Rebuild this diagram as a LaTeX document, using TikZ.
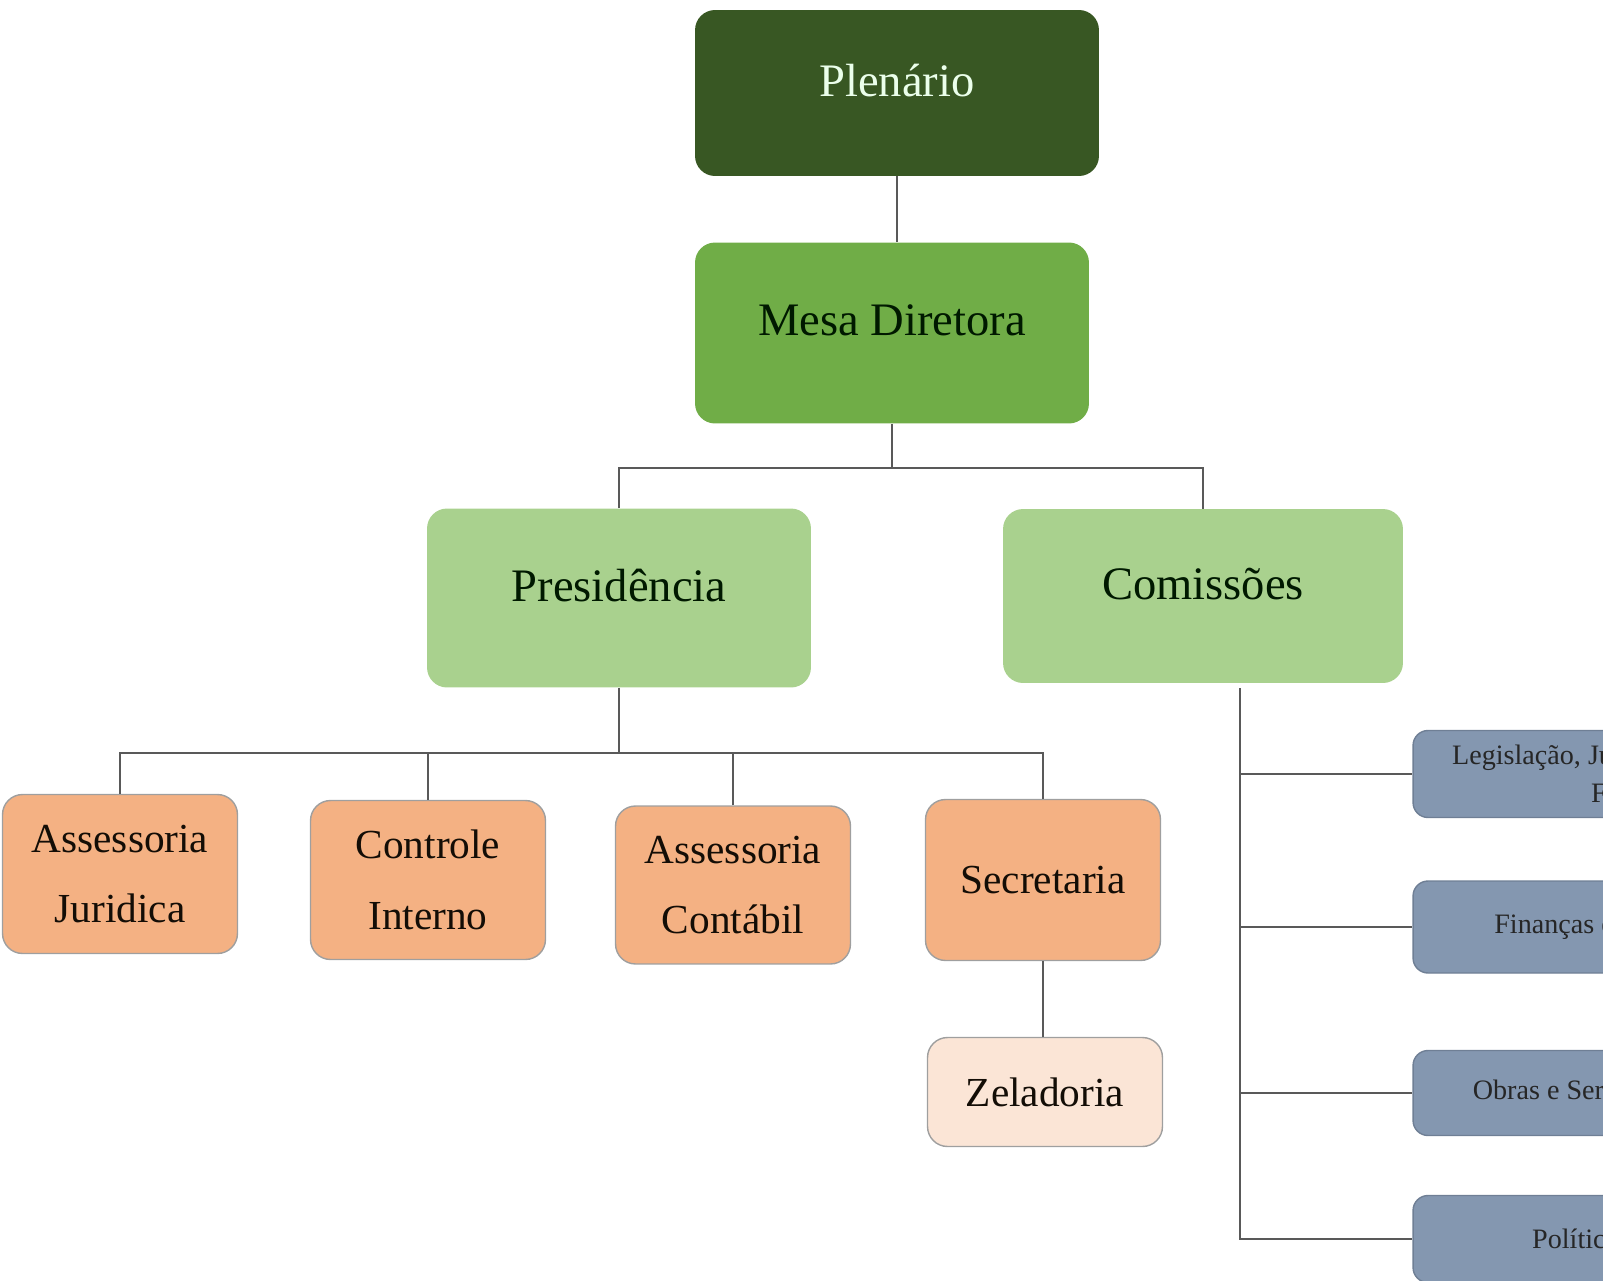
\documentclass[tikz,border=0pt]{standalone}
\usepackage{fontspec}
\setmainfont{Liberation Serif}
\definecolor{plengreen}{HTML}{385723}
\definecolor{mesagreen}{HTML}{70AD47}
\definecolor{lightgreen}{HTML}{A9D18E}
\definecolor{orangebox}{HTML}{F4B183}
\definecolor{paleorange}{HTML}{FBE5D6}
\definecolor{bluebox}{HTML}{8497B0}
\definecolor{blueedge}{HTML}{6F7F95}
\definecolor{linegray}{HTML}{595959}
\tikzset{
  chefia/.style={rounded corners=0.4cm, inner sep=0pt, align=center,
    text depth=0.5cm, font=\fontsize{26.5}{32}\selectfont},
  setor/.style={rounded corners=0.4cm, draw=gray!75, line width=0.8pt,
    fill=orangebox, inner sep=0pt, align=center, text=black!90!brown,
    minimum width=4.7cm, font=\fontsize{23.5}{40}\selectfont},
  comissao/.style={rounded corners=0.3cm, draw=blueedge, line width=0.8pt,
    fill=bluebox, inner sep=0pt, align=center, text=black!85,
    minimum width=8.28cm, font=\fontsize{16}{22}\selectfont},
  liga/.style={draw=linegray, line width=1.1pt}
}
\begin{document}
\begin{tikzpicture}[x=0.02cm,y=-0.02cm]
  \useasboundingbox (0,0) rectangle (1603,1281);
  \clip (0,0) rectangle (1603,1281);
  \node[chefia, fill=plengreen, text=green!8, minimum width=8.08cm, minimum height=3.32cm] (plen) at (897,93) {Plenário};
  \node[chefia, fill=mesagreen, text=black!90!green, minimum width=7.88cm, minimum height=3.62cm] (mesa) at (892,333) {Mesa Diretora};
  \node[chefia, fill=lightgreen, text=black!90!green, minimum width=7.68cm, minimum height=3.58cm] (pres) at (619,598) {Presidência};
  \node[chefia, fill=lightgreen, text=black!90!green, minimum width=8cm, minimum height=3.48cm] (com) at (1203,596) {Comissões};
  \node[setor, minimum height=3.18cm] (juri) at (120,874) {Assessoria\\Juridica};
  \node[setor, minimum height=3.18cm] (ctrl) at (428,880) {Controle\\Interno};
  \node[setor, minimum height=3.16cm] (cont) at (733,885) {Assessoria\\Contábil};
  \node[setor, minimum height=3.22cm] (secr) at (1043,880) {Secretaria};
  \node[setor, fill=paleorange, minimum height=2.18cm] (zela) at (1045,1092) {Zeladoria};
  \node[comissao, minimum height=1.74cm] (legi) at (1620,774) {Legislação, Justiça e Redação\\Final};
  \node[comissao, minimum height=1.84cm] (fina) at (1620,927) {Finanças e Orçamento};
  \node[comissao, minimum height=1.70cm] (obra) at (1620,1093) {Obras e Serviços Públicos};
  \node[comissao, minimum height=1.74cm] (poli) at (1620,1239) {Política Urbana};
  \coordinate (barraMesa) at (897,468);
  \coordinate (barraPres) at (622,753);
  \coordinate (tronco) at (1240,688);
  \draw[liga] (plen.south) -- (plen.south |- mesa.north);
  \draw[liga] (mesa.south) -- (mesa.south |- barraMesa);
  \draw[liga] (pres.north) |- (barraMesa) -| (com.north);
  \draw[liga] (pres.south) -- (pres.south |- barraPres);
  \draw[liga] (juri.north) |- (barraPres) -| (secr.north);
  \draw[liga] (ctrl.north) -- (ctrl.north |- barraPres);
  \draw[liga] (cont.north) -- (cont.north |- barraPres);
  \draw[liga] (secr.south) -- (secr.south |- zela.north);
  \draw[liga] (tronco) |- (legi.west);
  \draw[liga] (tronco) |- (fina.west);
  \draw[liga] (tronco) |- (obra.west);
  \draw[liga] (tronco) |- (poli.west);
\end{tikzpicture}
\end{document}
